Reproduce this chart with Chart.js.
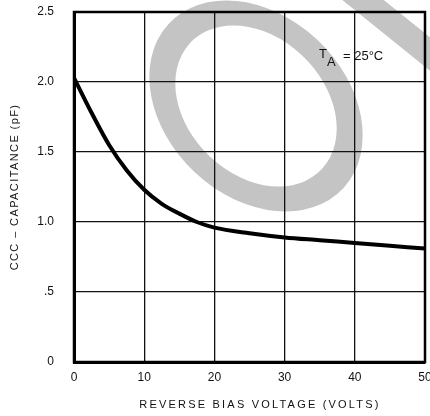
<!DOCTYPE html>
<html>
<head>
<meta charset="utf-8">
<script src="https://cdn.jsdelivr.net/npm/chart.js@4"></script>
<style>
  html, body { margin: 0; padding: 0; background: #fff; }
  #wrap { width: 430px; height: 416px; }
</style>
</head>
<body>
<div id="wrap"><canvas id="capChart"></canvas></div>
<script>
// reverse bias voltage (V) and capacitance (pF)
const voltage = [0, 2.5, 5, 7.5, 10, 12.5, 15, 17.5, 20, 25, 30, 35, 40, 45, 50];
const capacitance = [2.03, 1.78, 1.55, 1.37, 1.23, 1.13, 1.06, 1.0, 0.96, 0.92, 0.89, 0.87, 0.85, 0.83, 0.81];
const yTickLabels = ['0', '.5', '1.0', '1.5', '2.0', '2.5'];
const xTickLabels = ['0', '10', '20', '30', '40', '50'];
const xTitle = 'REVERSE BIAS VOLTAGE (VOLTS)';
const yTitle = 'CCC – CAPACITANCE (pF)';

const points = voltage.map((v, i) => ({ x: v, y: capacitance[i] }));
const FONT = '"Liberation Sans", Arial, sans-serif';

// grey watermark (ring + diagonal band), frame, axis titles and the TA note
const decorations = {
    id: 'decorations',
    beforeDraw(chart) {
        const c = chart.ctx;
        c.save();
        c.strokeStyle = '#c4c4c4';
        c.lineWidth = 25;
        c.save();
        c.translate(256, 106);
        c.transform(1, 0, 0.28, 1, 0, 0);
        c.beginPath();
        c.ellipse(0, 0, 90, 93, 0, 0, Math.PI * 2);
        c.stroke();
        c.restore();
        c.lineWidth = 26;
        c.beginPath();
        c.moveTo(332, -25);
        c.lineTo(440, 62);
        c.stroke();
        c.restore();
    },
    beforeDatasetsDraw(chart) {
        const c = chart.ctx;
        const a = chart.chartArea;
        c.save();
        c.strokeStyle = '#000';
        c.lineWidth = 2.5;
        c.strokeRect(a.left, a.top, a.right - a.left, a.bottom - a.top);
        c.restore();
    },
    afterDraw(chart) {
        const c = chart.ctx;
        c.save();
        c.fillStyle = '#111';
        c.textBaseline = 'alphabetic';
        c.font = '13px ' + FONT;
        c.fillText('T', 319, 58);
        c.fillText('A', 327, 66);
        c.fillText('= 25°C', 343, 60);

        c.textAlign = 'center';
        c.textBaseline = 'middle';
        c.font = '11px ' + FONT;
        c.letterSpacing = '2.2px';
        c.fillText(xTitle, 260, 405);
        c.letterSpacing = '1.4px';
        c.translate(15, 187);
        c.rotate(-Math.PI / 2);
        c.fillText(yTitle, 0, 0);
        c.restore();
    }
};

new Chart(document.getElementById('capChart'), {
    type: 'line',
    data: {
        datasets: [{
            data: points,
            borderColor: '#000',
            borderWidth: 4,
            pointRadius: 0,
            fill: false,
            cubicInterpolationMode: 'monotone'
        }]
    },
    options: {
        responsive: true,
        maintainAspectRatio: false,
        animation: false,
        layout: { padding: { top: 12, right: 5, left: 0, bottom: 0 } },
        plugins: { legend: { display: false }, tooltip: { enabled: false } },
        scales: {
            x: {
                type: 'linear',
                min: 0, max: 50,
                ticks: {
                    stepSize: 10,
                    color: '#111',
                    padding: 8,
                    font: { family: FONT, size: 12 },
                    callback: (v) => xTickLabels[v / 10]
                },
                grid: { color: '#111', lineWidth: 1.3, drawTicks: false },
                border: { color: '#000', width: 3 },
                afterFit: (s) => {
                    s.height = 54;
                    s.paddingLeft = 0;
                    s.paddingRight = 0;
                }
            },
            y: {
                min: 0, max: 2.5,
                ticks: {
                    stepSize: 0.5,
                    color: '#111',
                    padding: 20,
                    font: { family: FONT, size: 12 },
                    callback: (v) => yTickLabels[Math.round(v * 2)]
                },
                grid: { color: '#111', lineWidth: 1.3, drawTicks: false },
                border: { color: '#000', width: 3 },
                afterFit: (s) => {
                    s.width = 74;
                    s.paddingTop = 0;
                    s.paddingBottom = 0;
                }
            }
        }
    },
    plugins: [decorations]
});
</script>
</body>
</html>
